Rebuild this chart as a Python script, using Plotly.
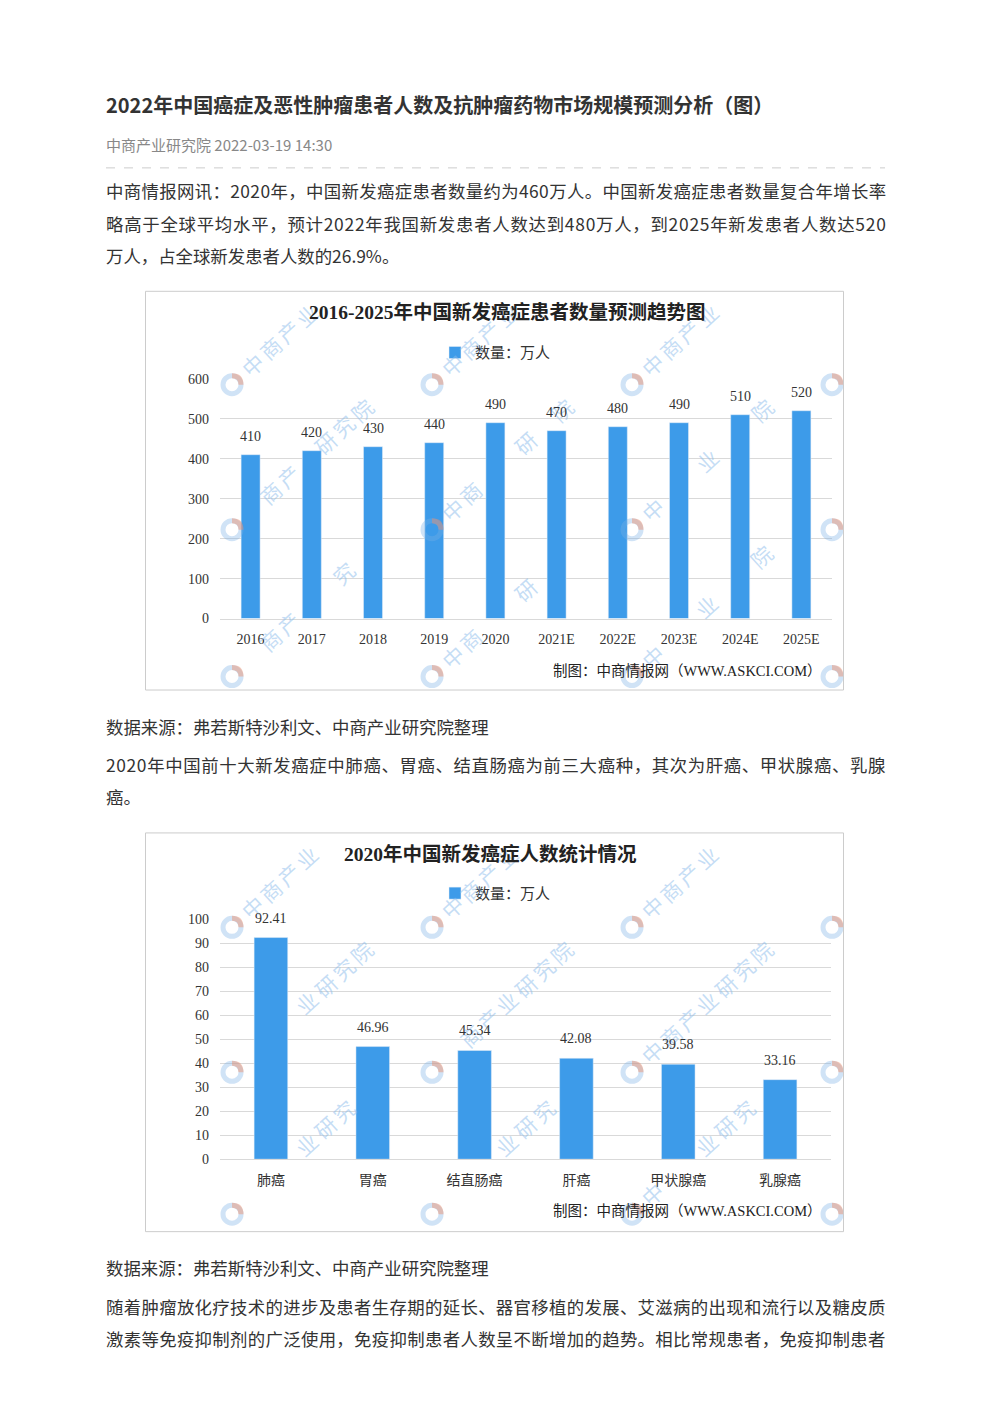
import math
import plotly.graph_objects as go

W, H = 992, 1403
# Empirical page mapping of the capture: vertical positions come out as 0.99*y + 7,
# so target page pixels are converted back before placing things on the paper.
def X(p): return p / W
def Y(p): return 1 - ((p - 7) / 0.99) / H

# ---------------- data ----------------
years = ["2016", "2017", "2018", "2019", "2020", "2021E", "2022E", "2023E", "2024E", "2025E"]
patients = [410, 420, 430, 440, 490, 470, 480, 490, 510, 520]

cancer_types = ["肺癌", "胃癌", "结直肠癌", "肝癌", "甲状腺癌", "乳腺癌"]
cancer_counts = [92.41, 46.96, 45.34, 42.08, 39.58, 33.16]

page_title = "2022年中国癌症及恶性肿瘤患者人数及抗肿瘤药物市场规模预测分析（图）"
meta_line = "中商产业研究院 2022-03-19 14:30"
para1 = ["中商情报网讯：2020年，中国新发癌症患者数量约为460万人。中国新发癌症患者数量复合年增长率",
         "略高于全球平均水平，预计2022年我国新发患者人数达到480万人，到2025年新发患者人数达520",
         "万人，占全球新发患者人数的26.9%。"]
source = "数据来源：弗若斯特沙利文、中商产业研究院整理"
para2 = ["2020年中国前十大新发癌症中肺癌、胃癌、结直肠癌为前三大癌种，其次为肝癌、甲状腺癌、乳腺",
         "癌。"]
para3 = ["随着肿瘤放化疗技术的进步及患者生存期的延长、器官移植的发展、艾滋病的出现和流行以及糖皮质",
         "激素等免疫抑制剂的广泛使用，免疫抑制患者人数呈不断增加的趋势。相比常规患者，免疫抑制患者"]
chart1_title = "2016-2025年中国新发癌症患者数量预测趋势图"
chart2_title = "2020年中国新发癌症人数统计情况"
legend_name = "数量：万人"
credit = "制图：中商情报网（WWW.ASKCI.COM）"
watermark = "中商产业研究院"

# ---------------- styles ----------------
BLUE = "#3D9BE9"
TXT = "#333333"
GRID = "#D9D9D9"
SANS = "Noto Sans CJK SC, Noto Sans, sans-serif"
SERIF = "Liberation Serif, Noto Sans CJK SC, serif"
para1_ls = [0.37, 0.75, 0]
para2_ls = [0.63, 0]
para3_ls = [0.33, 0.33]

# chart geometry (target page pixels)
C1 = dict(frame=(145.5, 291.5, 843.5, 690.5), plot=(220, 379, 832, 619), ymax=600, bw=0.31)
C2 = dict(frame=(145.5, 833.5, 843.5, 1232.5), plot=(220, 920, 831, 1160), ymax=100, bw=0.33)

fig = go.Figure()

fig.add_trace(go.Bar(x=years, y=patients, xaxis="x", yaxis="y", marker_color=BLUE,
                     width=C1["bw"], name=legend_name, legend="legend", showlegend=True,
                     hoverinfo="x+y"))
fig.add_trace(go.Bar(x=cancer_types, y=cancer_counts, xaxis="x2", yaxis="y2", marker_color=BLUE,
                     width=C2["bw"], name=legend_name, legend="legend2", showlegend=True,
                     hoverinfo="x+y"))

annotations = []
shapes = []

# ---------- watermark (decoration) ----------
def under_bar(px, py, chart, values):
    l, t, r, b = chart["plot"]
    step = (r - l) / len(values)
    half = chart["bw"] * step / 2 + 6
    for i, v in enumerate(values):
        cx = l + (i + 0.5) * step
        top = b - v / chart["ymax"] * (b - t)
        if abs(px - cx) < half and py > top - 6:
            return True
    return False

def add_watermarks(chart, rows, values):
    fl, ft, fr, fb = chart["frame"]
    ang = math.degrees(math.atan2(16.7, 18.3))
    for ly in rows:
        for lx in (232, 432, 632, 832):
            r = 9
            if ly + r < fb and ly - r > ft:
                shapes.append(dict(type="circle", xref="paper", yref="paper", layer="above",
                                   x0=X(lx - r), x1=X(lx + r), y0=Y(ly + r), y1=Y(ly - r),
                                   line=dict(color="rgba(120,175,228,0.35)", width=5)))
                shapes.append(dict(type="path", xref="paper", yref="paper", layer="above",
                                   path=f"M{X(lx)},{Y(ly - r)} Q{X(lx + r)},{Y(ly - r)} {X(lx + r)},{Y(ly)}",
                                   line=dict(color="rgba(238,140,105,0.45)", width=5)))
            for k, ch in enumerate(watermark):
                cx, cy = lx + 20 + 18.3 * k, ly - 20 - 16.7 * k
                if not (fl + 10 < cx < fr - 10 and ft + 12 < cy < fb - 10):
                    continue
                if under_bar(cx, cy, chart, values):
                    continue
                annotations.append(dict(x=X(cx), y=Y(cy), xref="paper", yref="paper", text=ch,
                                        showarrow=False, textangle=-ang, xanchor="center",
                                        yanchor="middle",
                                        font=dict(family=SANS, size=21,
                                                  color="rgba(140,188,235,0.5)")))

add_watermarks(C1, (385, 530, 677), patients)
add_watermarks(C2, (928, 1073, 1215), cancer_counts)

# ---------- data labels (category index as position on the category axes) ----------
for i, v in enumerate(patients):
    annotations.append(dict(x=i, y=v, xref="x", yref="y", text=str(v), showarrow=False,
                            yanchor="bottom", yshift=9, font=dict(family=SERIF, size=14, color=TXT)))
for i, v in enumerate(cancer_counts):
    annotations.append(dict(x=i, y=v, xref="x2", yref="y2", text=f"{v:.2f}", showarrow=False,
                            yanchor="bottom", yshift=10, font=dict(family=SERIF, size=14, color=TXT)))

def txt(s, x, y, size=17.4, color=TXT, bold=False, anchor="left", family=SANS, ls=0):
    t = f"<b>{s}</b>" if bold else s
    if ls:
        t = f'<span style="letter-spacing:{ls}px">{t}</span>'
    annotations.append(dict(x=X(x), y=Y(y), xref="paper", yref="paper", text=t, showarrow=False,
                            xanchor=anchor, yanchor="middle",
                            font=dict(family=family, size=size, color=color)))

txt(page_title, 104, 105, size=20, bold=True, color="#333333")
txt(meta_line, 104, 145, size=15, color="#888888")
for i, line in enumerate(para1):
    txt(line, 104, 191 + i * 32.5, ls=para1_ls[i])
txt(source, 104, 727)
for i, line in enumerate(para2):
    txt(line, 104, 765 + i * 32.5, ls=para2_ls[i])
txt(source, 104, 1268)
for i, line in enumerate(para3):
    txt(line, 104, 1307 + i * 32.5, ls=para3_ls[i])

txt(chart1_title, 507, 312, size=19.5, bold=True, anchor="center", family=SERIF, color="#222222")
txt(chart2_title, 490, 855, size=19.5, bold=True, anchor="center", family=SERIF, color="#222222")
txt(credit, 824, 671, size=14.5, anchor="right", family=SERIF, color="#222222")
txt(credit, 824, 1212, size=14.5, anchor="right", family=SERIF, color="#222222")

shapes.append(dict(type="line", xref="paper", yref="paper", x0=X(106), x1=X(885), y0=Y(168),
                   y1=Y(168), line=dict(color="#CCCCCC", width=1, dash="dash")))
for c in (C1, C2):
    fl, ft, fr, fb = c["frame"]
    shapes.append(dict(type="rect", xref="paper", yref="paper", x0=X(fl), x1=X(fr),
                       y0=Y(fb), y1=Y(ft), line=dict(color="#CCCCCC", width=1)))

axis_common = dict(showgrid=True, gridcolor=GRID, gridwidth=1, zeroline=False, showline=False,
                   ticks="", tickfont=dict(family=SERIF, size=14, color=TXT), fixedrange=True)
xaxis_common = dict(type="category", showgrid=False, showline=True, linecolor=GRID, ticks="",
                    ticklabelstandoff=8, tickfont=dict(family=SERIF, size=14, color=TXT),
                    fixedrange=True)

def dom_x(c): return [X(c["plot"][0]), X(c["plot"][2])]
def dom_y(c): return [Y(c["plot"][3]), Y(c["plot"][1])]

fig.update_layout(
    width=W, height=H, margin=dict(l=0, r=0, t=0, b=0),
    paper_bgcolor="white", plot_bgcolor="white",
    xaxis=dict(domain=dom_x(C1), anchor="y", **xaxis_common),
    yaxis=dict(domain=dom_y(C1), anchor="x", range=[0, C1["ymax"]], dtick=100,
               ticklabelstandoff=10, **axis_common),
    xaxis2=dict(domain=dom_x(C2), anchor="y2", **xaxis_common),
    yaxis2=dict(domain=dom_y(C2), anchor="x2", range=[0, C2["ymax"]], dtick=10,
                ticklabelstandoff=10, **axis_common),
    legend=dict(x=X(435), y=Y(353), xanchor="left", yanchor="middle", orientation="h",
                font=dict(family=SERIF, size=15, color=TXT), bgcolor="rgba(0,0,0,0)"),
    legend2=dict(x=X(435), y=Y(894), xanchor="left", yanchor="middle", orientation="h",
                 font=dict(family=SERIF, size=15, color=TXT), bgcolor="rgba(0,0,0,0)"),
    annotations=annotations,
    shapes=shapes,
)

fig.write_html("out.html")
